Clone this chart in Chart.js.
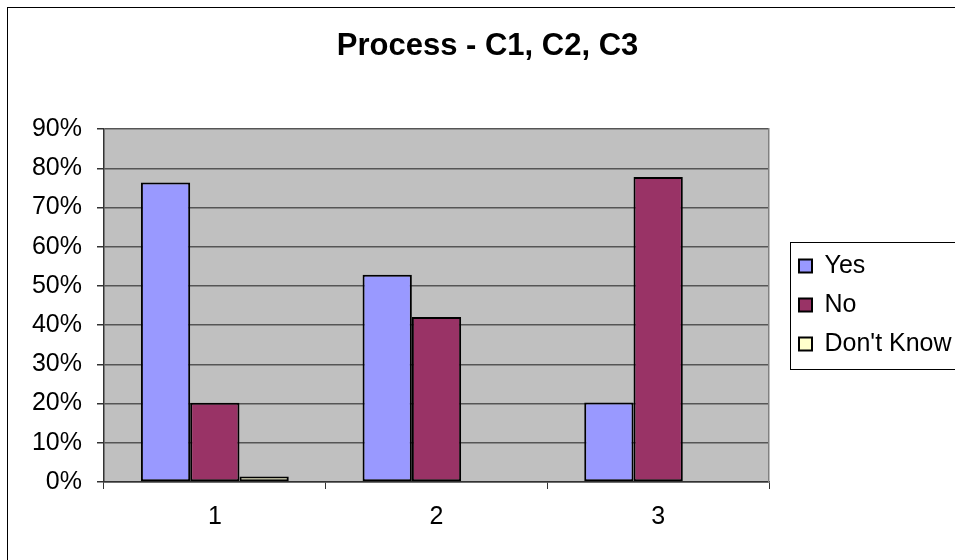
<!DOCTYPE html>
<html>
<head>
<meta charset="utf-8">
<script src="https://cdn.jsdelivr.net/npm/chart.js@4.4.1/dist/chart.umd.min.js"></script>
<style>
  html, body { margin: 0; padding: 0; background: #fff; overflow: hidden; }
</style>
</head>
<body>
<canvas id="chart" width="955" height="560"></canvas>
<script>
const categories = ['1', '2', '3'];
const yesValues = [76.4, 52.9, 20.3];
const noValues = [20.2, 42.1, 77.8];
const dontKnowValues = [1.4, null, null];
const yTicks = [0, 10, 20, 30, 40, 50, 60, 70, 80, 90];

const FONT = "'Liberation Sans', Arial, sans-serif";
const LEGEND_WIDTH = 170;

// grey plot area, outer frame and legend frame
const excelLook = {
  id: 'excelLook',
  beforeLayout(chart) {
    const legend = chart.legend;
    if (legend && !legend._fixedWidth) {
      const fit = legend.fit.bind(legend);
      legend.fit = function () { fit(); this.width = LEGEND_WIDTH; };
      legend._fixedWidth = true;
    }
  },
  beforeDraw(chart) {
    const c = chart.ctx, a = chart.chartArea;
    c.save();
    c.fillStyle = '#fff';
    c.fillRect(0, 0, chart.width, chart.height);
    c.fillStyle = '#C0C0C0';
    c.fillRect(a.left, a.top, a.right - a.left, a.bottom - a.top);
    c.strokeStyle = '#000';
    c.lineWidth = 1;
    c.strokeRect(7.5, 7.5, chart.width + 20, chart.height + 20);
    c.restore();
  },
  afterDraw(chart) {
    const boxes = chart.legend.legendHitBoxes;
    if (!boxes.length) return;
    const c = chart.ctx;
    const first = boxes[0], last = boxes[boxes.length - 1];
    const top = first.top - 12, bottom = last.top + last.height + 12;
    const left = first.left - 9;
    c.save();
    c.strokeStyle = '#000';
    c.lineWidth = 1;
    c.strokeRect(Math.round(left) + 0.5, Math.round(top) + 0.5, chart.width, Math.round(bottom - top));
    c.restore();
  }
};

new Chart(document.getElementById('chart').getContext('2d'), {
  type: 'bar',
  data: {
    labels: categories,
    datasets: [
      { label: 'Yes', data: yesValues, backgroundColor: '#9999FF' },
      { label: 'No', data: noValues, backgroundColor: '#993366' },
      { label: "Don't Know", data: dontKnowValues, backgroundColor: '#FFFFCC' }
    ]
  },
  options: {
    responsive: false,
    animation: false,
    layout: { padding: { left: 20, right: 0, top: 10, bottom: 0 } },
    datasets: {
      bar: {
        borderColor: '#000',
        borderWidth: 2,
        borderSkipped: false,
        categoryPercentage: 0.667,
        barPercentage: 1
      }
    },
    plugins: {
      title: {
        display: true,
        text: 'Process - C1, C2, C3',
        color: '#000',
        font: { family: FONT, size: 31, weight: 'bold' },
        padding: { top: 18, bottom: 64 }
      },
      legend: {
        position: 'right',
        title: { display: true, text: '', font: { size: 10 }, padding: { top: 28, bottom: 0 } },
        labels: {
          color: '#000',
          font: { family: FONT, size: 25 },
          boxWidth: 13,
          boxHeight: 13,
          padding: 14
        }
      },
      tooltip: { enabled: false }
    },
    scales: {
      x: {
        grid: { drawOnChartArea: false, tickLength: 7, color: '#333', lineWidth: 1 },
        border: { color: '#333', width: 1.5 },
        ticks: { color: '#000', font: { family: FONT, size: 25 }, padding: 13 },
        afterFit(scale) { scale.height = 78; }
      },
      y: {
        min: 0,
        max: 90,
        afterBuildTicks(scale) { scale.ticks = yTicks.map(v => ({ value: v })); },
        grid: { color: '#555', lineWidth: 1.5, tickLength: 7, tickColor: '#333' },
        border: { color: '#333', width: 1.5 },
        ticks: {
          color: '#000',
          font: { family: FONT, size: 25 },
          padding: 15,
          callback: v => v + '%'
        },
        afterFit(scale) { scale.width = 84; }
      },
      y2: {
        position: 'right',
        display: true,
        min: 0,
        max: 90,
        grid: { display: false, drawTicks: false },
        border: { display: true, color: '#808080', width: 1.5 },
        ticks: { display: false },
        afterFit(scale) { scale.width = 16; }
      }
    }
  },
  plugins: [excelLook]
});
</script>
</body>
</html>
